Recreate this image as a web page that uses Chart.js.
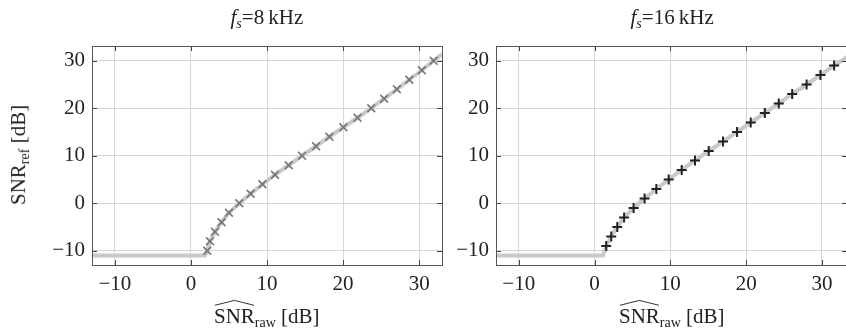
<!DOCTYPE html>
<html>
<head>
<meta charset="utf-8">
<script src="https://cdn.jsdelivr.net/npm/chart.js@4"></script>
<style>
  html, body { margin: 0; padding: 0; background: #fff; overflow: hidden; }
  body { width: 846px; height: 331px; position: relative; font-family: "Liberation Serif", serif; color: #222; }
  canvas { position: absolute; top: 0; }
  .lbl { position: absolute; font-size: 21px; white-space: nowrap; line-height: 1; }
  .sub { font-size: 14px; vertical-align: -4px; }
  .hat { position: relative; display: inline-block; }
  .hat svg { position: absolute; left: 0; top: -7px; width: 100%; height: 7px; overflow: visible; }
</style>
</head>
<body>
<canvas id="c8" width="460" height="331" style="left:0px"></canvas>
<canvas id="c16" width="460" height="331" style="left:404px"></canvas>

<div class="lbl" id="t8"><i>f</i><span class="sub"><i>s</i></span>=8&#8201;kHz</div>
<div class="lbl" id="t16"><i>f</i><span class="sub"><i>s</i></span>=16&#8201;kHz</div>
<div class="lbl" id="x8"><span class="hat">SNR<svg viewBox="0 0 100 10" preserveAspectRatio="none"><polyline points="2,9 50,2 98,9" fill="none" stroke="#333" stroke-width="1" vector-effect="non-scaling-stroke"/></svg></span><span class="sub">raw</span> [dB]</div>
<div class="lbl" id="x16"><span class="hat">SNR<svg viewBox="0 0 100 10" preserveAspectRatio="none"><polyline points="2,9 50,2 98,9" fill="none" stroke="#333" stroke-width="1" vector-effect="non-scaling-stroke"/></svg></span><span class="sub">raw</span> [dB]</div>
<div class="lbl" id="yl">SNR<span class="sub">ref</span> [dB]</div>

<script>
// Axis ticks shared by both panels
const xTicks = [-10, 0, 10, 20, 30];
const yTicks = [-10, 0, 10, 20, 30];

// fs = 8 kHz: estimated raw SNR vs. reference SNR
const raw8 = [2.15, 2.5, 3.16, 4.03, 5.0, 6.36, 7.85, 9.4, 11.05, 12.85, 14.6, 16.45, 18.2, 20.04, 21.9, 23.7, 25.4, 27.07, 28.7, 30.35, 31.9];
const ref8 = [-10, -8, -6, -4, -2, 0, 2, 4, 6, 8, 10, 12, 14, 16, 18, 20, 22, 24, 26, 28, 30];
// mapping curve: floor at -11 dB, then through the measured points
const curveRaw8 = [-13, 1.85].concat(raw8, [33]);
const curveRef8 = [-11, -11].concat(ref8, [31.4]);

// fs = 16 kHz
const raw16 = [1.54, 2.2, 3.0, 3.9, 5.15, 6.6, 8.15, 9.78, 11.5, 13.25, 15.06, 16.95, 18.8, 20.6, 22.46, 24.3, 26.07, 27.97, 29.8, 31.6];
const ref16 = [-9, -7, -5, -3, -1, 1, 3, 5, 7, 9, 11, 13, 15, 17, 19, 21, 23, 25, 27, 29];
const curveRaw16 = [-13, 1.1].concat(raw16, [34]);
const curveRef16 = [-11, -11].concat(ref16, [31.5]);

const pts = (xs, ys) => xs.map((x, i) => ({ x: x, y: ys[i] }));
const fmt = v => (v < 0 ? '\u2212' + Math.abs(v) : String(v));

// frame and inward tick marks, pgfplots style
const framePlugin = {
  id: 'frame',
  afterDraw(chart) {
    const { ctx, chartArea: a, scales } = chart;
    ctx.save();
    ctx.strokeStyle = '#444';
    ctx.lineWidth = 1;
    ctx.beginPath();
    const L = 5;
    xTicks.forEach(v => {
      const px = Math.round(scales.x.getPixelForValue(v)) + 0.5;
      ctx.moveTo(px, a.bottom); ctx.lineTo(px, a.bottom - L);
      ctx.moveTo(px, a.top); ctx.lineTo(px, a.top + L);
    });
    yTicks.forEach(v => {
      const py = Math.round(scales.y.getPixelForValue(v)) + 0.5;
      ctx.moveTo(a.left, py); ctx.lineTo(a.left + L, py);
      ctx.moveTo(a.right, py); ctx.lineTo(a.right - L, py);
    });
    ctx.stroke();
    ctx.strokeStyle = '#555';
    ctx.strokeRect(Math.round(a.left) + 0.5, Math.round(a.top) + 0.5,
                   Math.round(a.right - a.left), Math.round(a.bottom - a.top));
    ctx.restore();
  }
};

function makeChart(id, curveX, curveY, mx, my, marker, xMax, padRight) {
  return new Chart(document.getElementById(id), {
    type: 'scatter',
    data: {
      datasets: [
        {
          data: pts(mx, my),
          showLine: false,
          pointStyle: marker.style,
          pointRadius: marker.radius,
          pointBorderWidth: marker.width,
          pointBorderColor: marker.color,
          pointBackgroundColor: marker.color,
          order: 0
        },
        {
          data: pts(curveX, curveY),
          showLine: true,
          borderColor: '#c9c9c9',
          borderWidth: 4,
          pointRadius: 0,
          tension: 0,
          order: 1
        }
      ]
    },
    options: {
      responsive: false,
      animation: false,
      devicePixelRatio: 1,
      layout: { padding: { top: 46, right: padRight, left: 0, bottom: 0 } },
      plugins: { legend: { display: false }, tooltip: { enabled: false } },
      scales: {
        x: {
          type: 'linear', min: -13, max: xMax,
          afterBuildTicks: s => { s.ticks = xTicks.map(v => ({ value: v })); },
          afterFit: s => { s.height = 66; },
          grid: { color: '#d6d6d6', lineWidth: 1, drawTicks: false },
          border: { display: false },
          ticks: { color: '#222', padding: 7, font: { family: 'Liberation Serif', size: 21 }, callback: fmt, maxRotation: 0 }
        },
        y: {
          type: 'linear', min: -13, max: 33.1,
          afterBuildTicks: s => { s.ticks = yTicks.map(v => ({ value: v })); },
          afterFit: s => { s.width = 92; },
          grid: { color: '#d6d6d6', lineWidth: 1, drawTicks: false },
          border: { display: false },
          ticks: { color: '#222', padding: 7, font: { family: 'Liberation Serif', size: 21 }, callback: fmt }
        }
      }
    },
    plugins: [framePlugin]
  });
}

makeChart('c8', curveRaw8, curveRef8, raw8, ref8,
  { style: 'crossRot', radius: 5.5, width: 1.6, color: '#777' }, 33, 18);
makeChart('c16', curveRaw16, curveRef16, raw16, ref16,
  { style: 'cross', radius: 5, width: 2, color: '#222' }, 33.3, 17);

// place the html labels around the panels
function place(id, cx, cy, rot) {
  const el = document.getElementById(id);
  const w = el.offsetWidth, h = el.offsetHeight;
  el.style.left = (cx - w / 2) + 'px';
  el.style.top = (cy - h / 2) + 'px';
  if (rot) el.style.transform = 'rotate(' + rot + 'deg)';
}
place('t8', 267, 19);
place('t16', 672, 19);
place('x8', 267, 318);
place('x16', 672, 318);
place('yl', 20, 155, -90);
</script>
</body>
</html>
